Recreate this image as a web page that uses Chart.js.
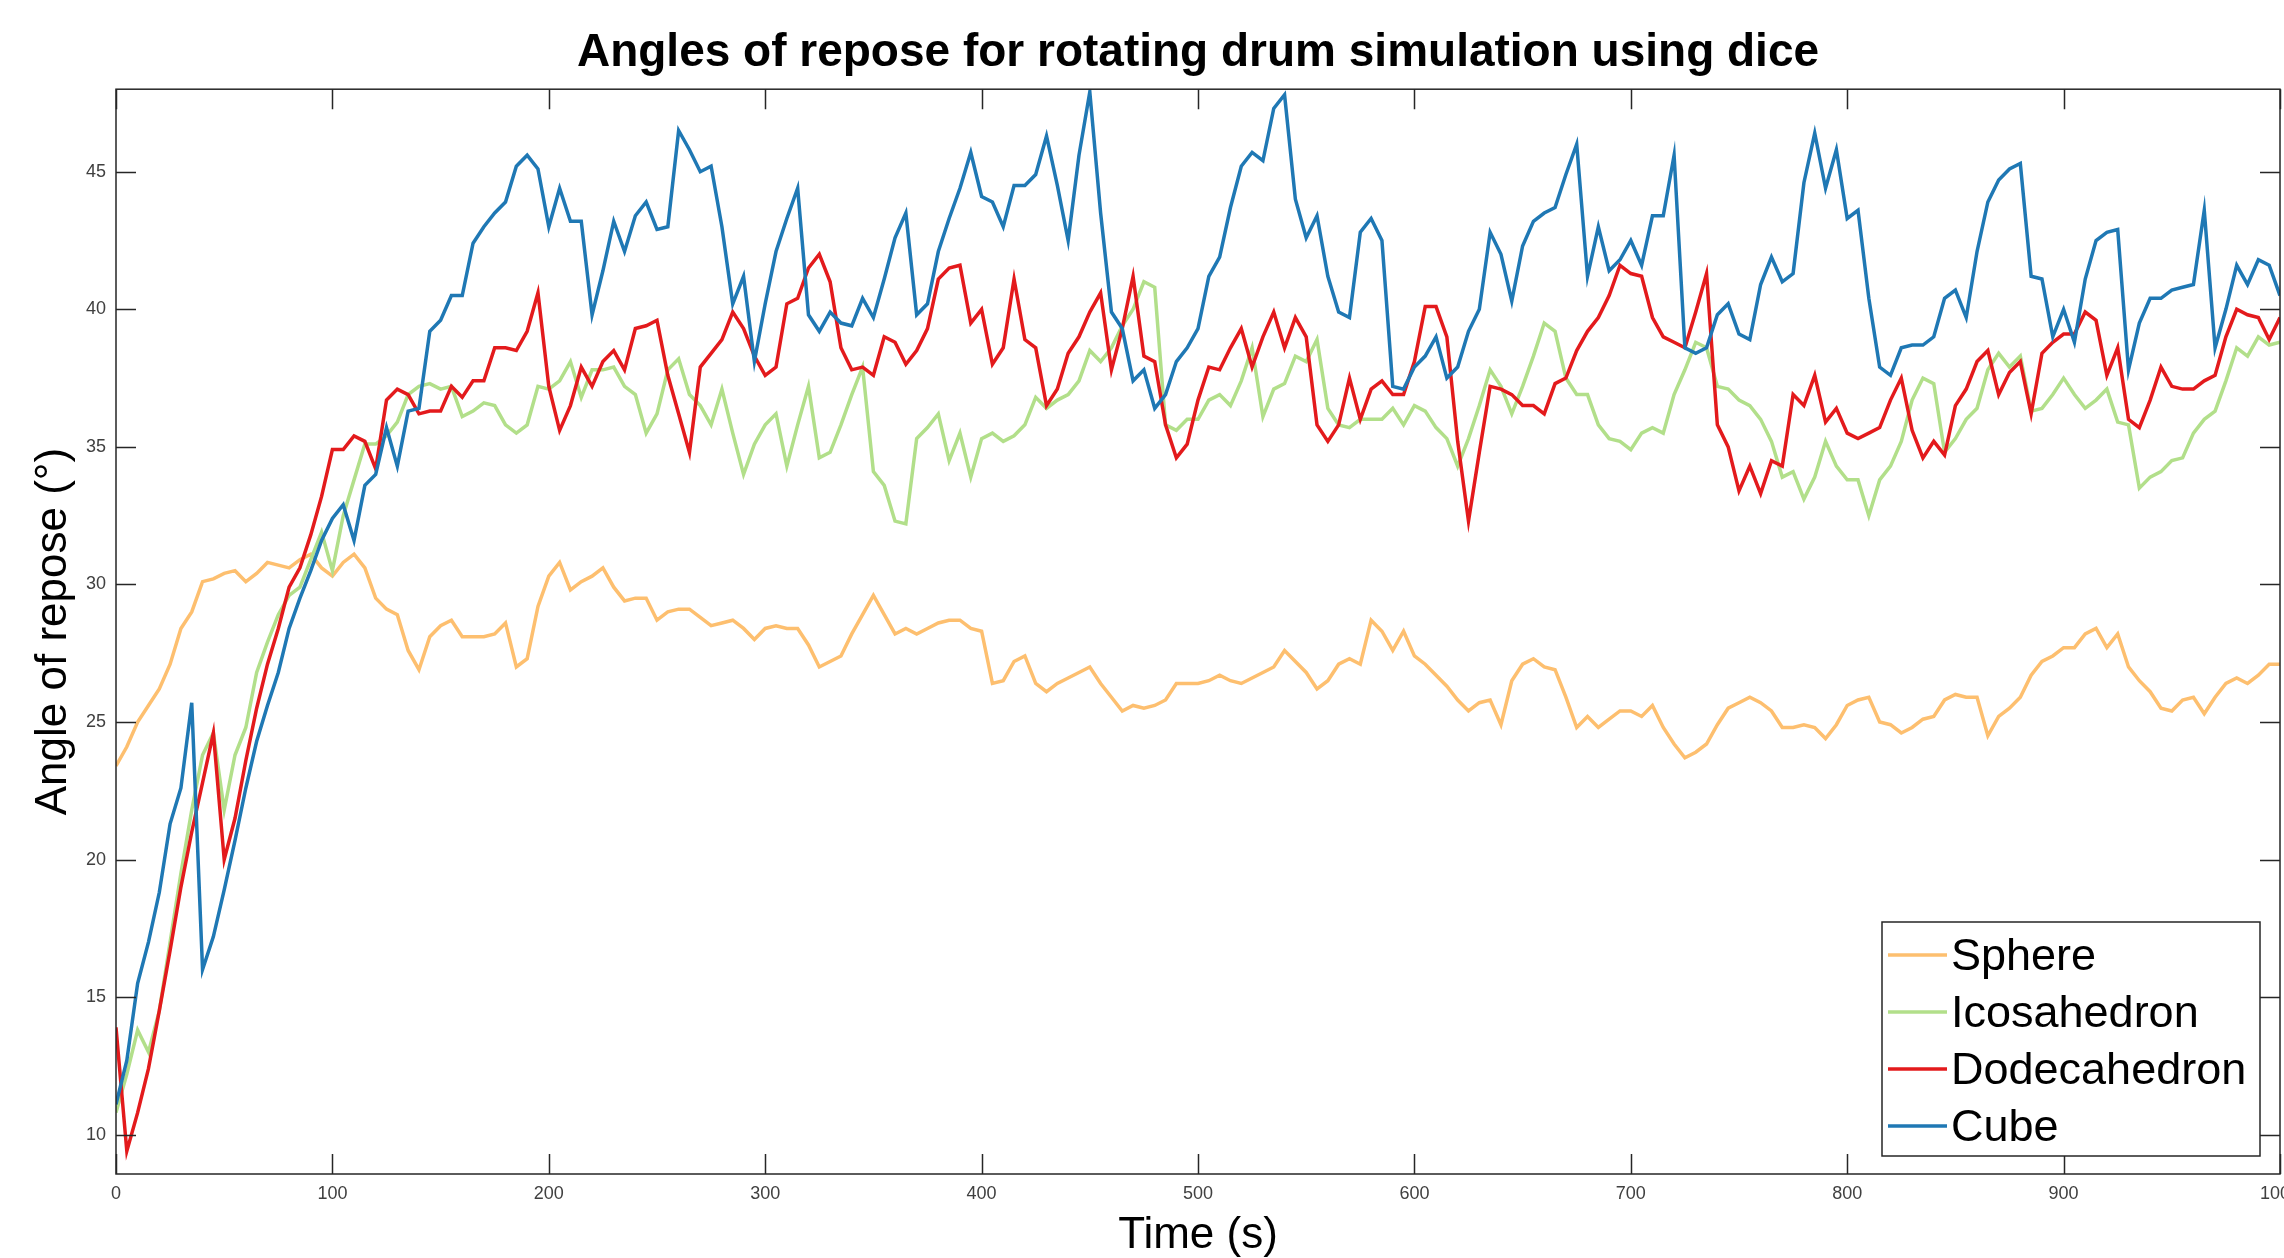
<!DOCTYPE html>
<html>
<head>
<meta charset="utf-8">
<title>Angles of repose</title>
<script src="https://cdn.jsdelivr.net/npm/chart.js@4.4.0/dist/chart.umd.min.js"></script>
<style>
    html, body { margin: 0; padding: 0; background: #fff; }
    #wrap { width: 2284px; height: 1258px; }
</style>
</head>
<body>
<div id="wrap"><canvas id="repose-chart" width="2284" height="1258"></canvas></div>
<script>
/**
 * Angles of repose for a rotating drum simulation, one line per die shape.
 * Values are sampled every 5 s from t = 0 to t = 1000 s.
 */

const SERIES_LABELS = ['Sphere', 'Icosahedron', 'Dodecahedron', 'Cube'];
const SERIES_COLORS = ['#fdbf6f', '#b2df8a', '#e31a1c', '#1f78b4'];

const sphere = [
    23.4, 24.1, 25.0, 25.6, 26.2, 27.1, 28.4, 29.0, 30.1, 30.2,
    30.4, 30.5, 30.1, 30.4, 30.8, 30.7, 30.6, 30.9, 31.1, 30.6,
    30.3, 30.8, 31.1, 30.6, 29.5, 29.1, 28.9, 27.6, 26.9, 28.1,
    28.5, 28.7, 28.1, 28.1, 28.1, 28.2, 28.6, 27.0, 27.3, 29.2,
    30.3, 30.8, 29.8, 30.1, 30.3, 30.6, 29.9, 29.4, 29.5, 29.5,
    28.7, 29.0, 29.1, 29.1, 28.8, 28.5, 28.6, 28.7, 28.4, 28.0,
    28.4, 28.5, 28.4, 28.4, 27.8, 27.0, 27.2, 27.4, 28.2, 28.9,
    29.6, 28.9, 28.2, 28.4, 28.2, 28.4, 28.6, 28.7, 28.7, 28.4,
    28.3, 26.4, 26.5, 27.2, 27.4, 26.4, 26.1, 26.4, 26.6, 26.8,
    27.0, 26.4, 25.9, 25.4, 25.6, 25.5, 25.6, 25.8, 26.4, 26.4,
    26.4, 26.5, 26.7, 26.5, 26.4, 26.6, 26.8, 27.0, 27.6, 27.2,
    26.8, 26.2, 26.5, 27.1, 27.3, 27.1, 28.7, 28.3, 27.6, 28.3,
    27.4, 27.1, 26.7, 26.3, 25.8, 25.4, 25.7, 25.8, 24.9, 26.5,
    27.1, 27.3, 27.0, 26.9, 25.9, 24.8, 25.2, 24.8, 25.1, 25.4,
    25.4, 25.2, 25.6, 24.8, 24.2, 23.7, 23.9, 24.2, 24.9, 25.5,
    25.7, 25.9, 25.7, 25.4, 24.8, 24.8, 24.9, 24.8, 24.4, 24.9,
    25.6, 25.8, 25.9, 25.0, 24.9, 24.6, 24.8, 25.1, 25.2, 25.8,
    26.0, 25.9, 25.9, 24.5, 25.2, 25.5, 25.9, 26.7, 27.2, 27.4,
    27.7, 27.7, 28.2, 28.4, 27.7, 28.2, 27.0, 26.5, 26.1, 25.5,
    25.4, 25.8, 25.9, 25.3, 25.9, 26.4, 26.6, 26.4, 26.7, 27.1,
    27.1
];

const icosahedron = [
    10.8, 12.2, 13.8, 13.0, 14.5, 17.0, 19.5, 21.8, 23.8, 24.6,
    21.8, 23.8, 24.8, 26.8, 27.9, 28.9, 29.6, 29.9, 30.9, 31.9,
    30.5, 32.5, 33.8, 35.1, 35.1, 35.4, 35.9, 36.9, 37.2, 37.3,
    37.1, 37.2, 36.1, 36.3, 36.6, 36.5, 35.8, 35.5, 35.8, 37.2,
    37.1, 37.4, 38.1, 36.8, 37.8, 37.8, 37.9, 37.2, 36.9, 35.5,
    36.2, 37.8, 38.2, 36.9, 36.5, 35.8, 37.1, 35.5, 34.0, 35.1,
    35.8, 36.2, 34.3, 35.8, 37.2, 34.6, 34.8, 35.8, 36.9, 37.9,
    34.1, 33.6, 32.3, 32.2, 35.3, 35.7, 36.2, 34.5, 35.5, 33.9,
    35.3, 35.5, 35.2, 35.4, 35.8, 36.8, 36.4, 36.7, 36.9, 37.4,
    38.5, 38.1, 38.6, 39.4, 40.0, 41.0, 40.8, 35.8, 35.6, 36.0,
    36.0, 36.7, 36.9, 36.5, 37.4, 38.6, 36.1, 37.1, 37.3, 38.3,
    38.1, 38.9, 36.4, 35.8, 35.7, 36.0, 36.0, 36.0, 36.4, 35.8,
    36.5, 36.3, 35.7, 35.3, 34.3, 35.3, 36.5, 37.8, 37.2, 36.2,
    37.2, 38.3, 39.5, 39.2, 37.5, 36.9, 36.9, 35.8, 35.3, 35.2,
    34.9, 35.5, 35.7, 35.5, 36.9, 37.8, 38.8, 38.6, 37.2, 37.1,
    36.7, 36.5, 36.0, 35.2, 33.9, 34.1, 33.1, 33.9, 35.2, 34.3,
    33.8, 33.8, 32.5, 33.8, 34.3, 35.2, 36.7, 37.5, 37.3, 34.8,
    35.3, 36.0, 36.4, 37.8, 38.4, 37.9, 38.3, 36.3, 36.4, 36.9,
    37.5, 36.9, 36.4, 36.7, 37.1, 35.9, 35.8, 33.5, 33.9, 34.1,
    34.5, 34.6, 35.5, 36.0, 36.3, 37.4, 38.6, 38.3, 39.0, 38.7,
    38.8
];

const dodecahedron = [
    13.9, 9.4, 10.8, 12.4, 14.5, 16.7, 19.0, 21.0, 22.8, 24.6,
    20.0, 21.5, 23.6, 25.5, 27.1, 28.4, 29.9, 30.6, 31.8, 33.2,
    34.9, 34.9, 35.4, 35.2, 34.2, 36.7, 37.1, 36.9, 36.2, 36.3,
    36.3, 37.2, 36.8, 37.4, 37.4, 38.6, 38.6, 38.5, 39.2, 40.6,
    37.2, 35.6, 36.5, 37.9, 37.2, 38.1, 38.5, 37.8, 39.3, 39.4,
    39.6, 37.6, 36.2, 34.8, 37.9, 38.4, 38.9, 39.9, 39.3, 38.3,
    37.6, 37.9, 40.2, 40.4, 41.5, 42.0, 41.0, 38.6, 37.8, 37.9,
    37.6, 39.0, 38.8, 38.0, 38.5, 39.3, 41.1, 41.5, 41.6, 39.5,
    40.0, 38.0, 38.6, 41.1, 38.9, 38.6, 36.5, 37.1, 38.4, 39.0,
    39.9, 40.6, 37.8, 39.3, 41.2, 38.3, 38.1, 35.8, 34.6, 35.1,
    36.7, 37.9, 37.8, 38.6, 39.3, 37.9, 39.0, 39.9, 38.6, 39.7,
    39.0, 35.8, 35.2, 35.8, 37.5, 36.0, 37.1, 37.4, 36.9, 36.9,
    38.1, 40.1, 40.1, 39.0, 35.2, 32.3, 34.8, 37.2, 37.1, 36.9,
    36.5, 36.5, 36.2, 37.3, 37.5, 38.5, 39.2, 39.7, 40.5, 41.6,
    41.3, 41.2, 39.7, 39.0, 38.8, 38.6, 39.9, 41.3, 35.8, 35.0,
    33.4, 34.3, 33.3, 34.5, 34.3, 36.9, 36.5, 37.6, 35.9, 36.4,
    35.5, 35.3, 35.5, 35.7, 36.7, 37.5, 35.6, 34.6, 35.2, 34.7,
    36.5, 37.1, 38.1, 38.5, 36.9, 37.7, 38.1, 36.2, 38.4, 38.8,
    39.1, 39.1, 39.9, 39.6, 37.6, 38.6, 36.0, 35.7, 36.7, 37.9,
    37.2, 37.1, 37.1, 37.4, 37.6, 39.0, 40.0, 39.8, 39.7, 38.9,
    39.7
];

const cube = [
    11.1, 12.7, 15.5, 17.0, 18.8, 21.3, 22.6, 25.7, 16.0, 17.2,
    18.9, 20.7, 22.6, 24.3, 25.6, 26.8, 28.4, 29.5, 30.5, 31.6,
    32.4, 32.9, 31.6, 33.6, 34.0, 35.7, 34.3, 36.3, 36.4, 39.2,
    39.6, 40.5, 40.5, 42.4, 43.0, 43.5, 43.9, 45.2, 45.6, 45.1,
    43.0, 44.4, 43.2, 43.2, 39.8, 41.4, 43.2, 42.1, 43.4, 43.9,
    42.9, 43.0, 46.5, 45.8, 45.0, 45.2, 43.0, 40.2, 41.2, 38.1,
    40.2, 42.1, 43.3, 44.4, 39.8, 39.2, 39.9, 39.5, 39.4, 40.4,
    39.7, 41.1, 42.6, 43.5, 39.8, 40.2, 42.1, 43.3, 44.4, 45.7,
    44.1, 43.9, 43.0, 44.5, 44.5, 44.9, 46.3, 44.5, 42.5, 45.6,
    47.9, 43.5, 39.9, 39.3, 37.4, 37.8, 36.4, 36.9, 38.1, 38.6,
    39.3, 41.2, 41.9, 43.7, 45.2, 45.7, 45.4, 47.3, 47.8, 44.0,
    42.6, 43.4, 41.2, 39.9, 39.7, 42.8, 43.3, 42.5, 37.2, 37.1,
    37.9, 38.3, 39.0, 37.5, 37.9, 39.2, 40.0, 42.8, 42.0, 40.3,
    42.3, 43.2, 43.5, 43.7, 44.9, 46.0, 41.2, 43.0, 41.4, 41.8,
    42.5, 41.6, 43.4, 43.4, 45.6, 38.6, 38.4, 38.6, 39.8, 40.2,
    39.1, 38.9, 40.9, 41.9, 41.0, 41.3, 44.6, 46.4, 44.4, 45.8,
    43.3, 43.6, 40.4, 37.9, 37.6, 38.6, 38.7, 38.7, 39.0, 40.4,
    40.7, 39.7, 42.1, 43.9, 44.7, 45.1, 45.3, 41.2, 41.1, 39.0,
    40.0, 38.8, 41.1, 42.5, 42.8, 42.9, 37.8, 39.5, 40.4, 40.4,
    40.7, 40.8, 40.9, 43.6, 38.6, 40.0, 41.6, 40.9, 41.8, 41.6,
    40.5
];

// sample times in seconds, one per value
const times = sphere.map((_, i) => i * 5);

const X_MIN = 0;
const X_MAX = 1000;
const X_STEP = 100;
const Y_MIN = 8.57;
const Y_MAX = 48.0;
const Y_STEP = 5;

const FONT = '"Liberation Sans", Arial, Helvetica, sans-serif';
const AXIS_COLOR = '#262626';
const TICK_LEN = 20;

/**
 * Pair the shared time axis with one series
 * @param {array} values - angle values
 */
function toPoints(values) {
    return values.map((v, i) => ({ x: times[i], y: v }));
}

/**
 * Matlab style box: frame round the plot area, ticks pointing inwards on all four sides
 */
const boxTicks = {
    id: 'boxTicks',
    afterDraw(chart) {
        const { ctx, chartArea: a, scales } = chart;
        ctx.save();
        ctx.strokeStyle = AXIS_COLOR;
        ctx.lineWidth = 1.5;
        ctx.strokeRect(a.left, a.top, a.right - a.left, a.bottom - a.top);

        ctx.beginPath();
        scales.x.ticks.forEach(t => {
            const px = Math.round(scales.x.getPixelForValue(t.value)) + 0.5;
            ctx.moveTo(px, a.bottom);
            ctx.lineTo(px, a.bottom - TICK_LEN);
            ctx.moveTo(px, a.top);
            ctx.lineTo(px, a.top + TICK_LEN);
        });
        scales.y.ticks.forEach(t => {
            const py = Math.round(scales.y.getPixelForValue(t.value)) + 0.5;
            ctx.moveTo(a.left, py);
            ctx.lineTo(a.left + TICK_LEN, py);
            ctx.moveTo(a.right, py);
            ctx.lineTo(a.right - TICK_LEN, py);
        });
        ctx.stroke();
        ctx.restore();
    }
};

/**
 * Legend boxed inside the lower right corner of the plot area
 */
const insideLegend = {
    id: 'insideLegend',
    afterDraw(chart) {
        const { ctx, chartArea: a } = chart;
        const w = 378;
        const h = 234;
        const left = a.right - 20 - w;
        const top = a.bottom - 18 - h;

        ctx.save();
        ctx.fillStyle = '#ffffff';
        ctx.fillRect(left, top, w, h);
        ctx.strokeStyle = AXIS_COLOR;
        ctx.lineWidth = 1.5;
        ctx.strokeRect(left, top, w, h);

        ctx.font = '45px ' + FONT;
        ctx.textBaseline = 'middle';
        ctx.textAlign = 'left';
        chart.data.datasets.forEach((ds, i) => {
            const y = top + 33 + i * 57;
            ctx.strokeStyle = ds.borderColor;
            ctx.lineWidth = 3.5;
            ctx.beginPath();
            ctx.moveTo(left + 6, y);
            ctx.lineTo(left + 65, y);
            ctx.stroke();
            ctx.fillStyle = '#000000';
            ctx.fillText(ds.label, left + 69, y + 3);
        });
        ctx.restore();
    }
};

Chart.defaults.font.family = FONT;
Chart.defaults.color = '#404040';

const seriesValues = [sphere, icosahedron, dodecahedron, cube];

const ctx = document.getElementById('repose-chart').getContext('2d');
const reposeChart = new Chart(ctx, {
    type: 'line',
    data: {
        datasets: seriesValues.map((values, i) => ({
            label: SERIES_LABELS[i],
            data: toPoints(values),
            borderColor: SERIES_COLORS[i],
            backgroundColor: SERIES_COLORS[i],
            borderWidth: 3.5,
            pointRadius: 0,
            tension: 0,
            fill: false,
            // later series drawn on top, like the original plot
            order: seriesValues.length - i
        }))
    },
    options: {
        responsive: false,
        devicePixelRatio: 1,
        animation: false,
        layout: {
            padding: { left: 0, right: 4, top: 0, bottom: 0 }
        },
        plugins: {
            legend: { display: false },
            tooltip: { enabled: false },
            title: {
                display: true,
                text: 'Angles of repose for rotating drum simulation using dice',
                color: '#000000',
                fullSize: false,
                font: { size: 46, weight: 'bold', lineHeight: 1.2 },
                padding: { top: 26, bottom: 8 }
            }
        },
        scales: {
            x: {
                type: 'linear',
                min: X_MIN,
                max: X_MAX,
                grid: { display: false, drawTicks: false },
                border: { display: false },
                ticks: {
                    stepSize: X_STEP,
                    includeBounds: false,
                    maxRotation: 0,
                    autoSkip: false,
                    padding: 9,
                    font: { size: 18 },
                    color: '#404040',
                    callback: value => String(value)
                },
                title: {
                    display: true,
                    text: 'Time (s)',
                    color: '#000000',
                    font: { size: 44, lineHeight: 1 },
                    padding: { top: 0, bottom: 0 }
                },
                afterFit(scale) {
                    scale.height = 84;
                    scale.paddingLeft = 0;
                    scale.paddingRight = 0;
                }
            },
            y: {
                type: 'linear',
                min: Y_MIN,
                max: Y_MAX,
                grid: { display: false, drawTicks: false },
                border: { display: false },
                ticks: {
                    stepSize: Y_STEP,
                    includeBounds: false,
                    padding: 10,
                    font: { size: 18 },
                    color: '#404040',
                    callback: value => String(value)
                },
                title: {
                    display: true,
                    text: 'Angle of repose (°)',
                    color: '#000000',
                    font: { size: 44, lineHeight: 1 },
                    padding: { top: 32, bottom: 0 }
                },
                afterFit(scale) {
                    scale.width = 116;
                    scale.paddingTop = 0;
                    scale.paddingBottom = 0;
                }
            }
        }
    },
    plugins: [boxTicks, insideLegend]
});
</script>
</body>
</html>
